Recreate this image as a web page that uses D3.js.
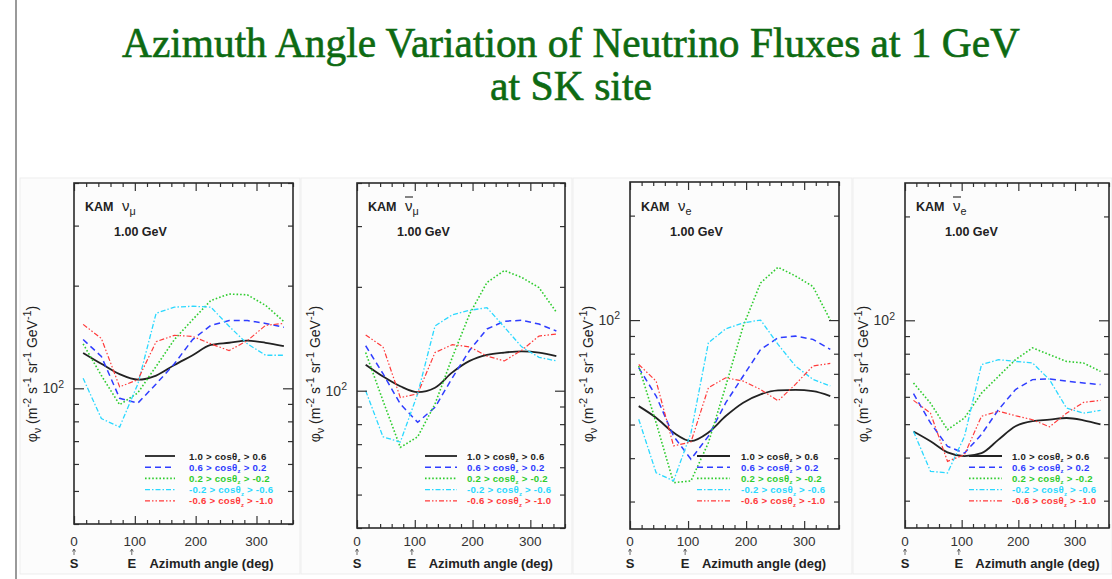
<!DOCTYPE html>
<html>
<head>
<meta charset="utf-8">
<script src="https://cdn.jsdelivr.net/npm/d3@7"></script>
<style>
  body { margin: 0; background: #fff; }
  svg { display: block; }
</style>
</head>
<body>
<svg id="chart" width="1112" height="579"></svg>
<script>
// Azimuth bin centres (deg) at which the fluxes are tabulated
const azimuth = [15, 45, 75, 105, 135, 165, 195, 225, 255, 285, 315, 345];

// Zenith-angle bands, [upper, lower] bound of cos(theta_z)
const zenithBands = [["1.0", "0.6"], ["0.6", "0.2"], ["0.2", "-0.2"], ["-0.2", "-0.6"], ["-0.6", "-1.0"]];

// Flux at 1 GeV, m^-2 s^-1 sr^-1 GeV^-1, one row per zenith band
const fluxNuMu = [
  [127, 118, 110, 106, 109, 117, 125, 134, 136, 138, 136, 133],
  [139, 124, 93.5, 90.5, 103, 118, 139, 153, 158, 158, 155, 151],
  [135, 109, 89.5, 97, 116, 139, 159, 181, 189, 188, 175, 157],
  [107, 81.5, 77, 103, 166, 173, 174, 173, 152, 135, 125, 125],
  [154, 140, 101, 106, 137, 143, 142, 135, 129, 138, 153, 155]
];
const fluxNuMuBar = [
  [119, 110, 103, 99, 102, 113, 122, 127, 129, 130, 129, 126],
  [135, 112, 91.5, 81, 89.5, 109, 131, 151, 159, 160, 156, 149],
  [129, 93.5, 68.5, 73.5, 91.5, 125, 167, 206, 223, 213, 199, 169],
  [100, 73.5, 71, 98, 154, 166, 171, 174, 153, 134, 125, 122],
  [145, 134, 95.5, 98, 129, 136, 134, 126, 122, 131, 144, 146]
];
const fluxNuE = [
  [56.5, 52.3, 47.4, 44.8, 47.4, 52.9, 57.8, 61.1, 62.7, 62.9, 62.4, 60.4],
  [72.9, 60.4, 46.3, 39.7, 46.3, 57.8, 69.0, 82.3, 88.9, 89.9, 88.0, 82.3],
  [73.7, 50.6, 34.0, 34.4, 44.3, 64.6, 96.1, 128, 142, 134, 125, 100],
  [51.8, 36.3, 34.4, 47.3, 86.0, 94.4, 98.2, 100, 85.1, 73.7, 67.5, 64.6],
  [74.5, 66.7, 43.4, 44.5, 63.8, 68.2, 66.7, 63.1, 58.5, 65.3, 73.7, 75.0]
];
const fluxNuEBar = [
  [47.6, 44.6, 41.4, 40.4, 41.2, 45.1, 49.3, 51.0, 51.5, 52.1, 51.3, 49.9],
  [61.3, 50.4, 43.1, 41.2, 46.7, 55.1, 63.0, 67.3, 67.6, 66.6, 65.8, 65.1],
  [65.8, 57.5, 48.2, 52.1, 61.5, 68.8, 76.9, 83.2, 79.5, 76.0, 75.2, 71.1],
  [47.6, 36.5, 36.1, 46.1, 74.4, 76.9, 76.0, 75.2, 67.3, 55.7, 53.8, 54.8],
  [58.6, 53.8, 39.0, 40.8, 52.7, 54.5, 52.9, 51.5, 49.1, 53.8, 57.8, 58.6]
];

// Axis ticks and labels
const xTickLabels = [0, 100, 200, 300];
const xMinorStep = 20;
const directionMarks = [{ az: 0, label: "S" }, { az: 95, label: "E" }];
const flavourNames = [
  { base: "ν", sub: "μ", bar: false },
  { base: "ν", sub: "μ", bar: true },
  { base: "ν", sub: "e", bar: false },
  { base: "ν", sub: "e", bar: true }
];
const siteLabel = "KAM";
const energyLabel = "1.00 GeV";
const fluxDomains = [[40, 400], [40, 400], [25, 250], [25, 250]];
const titleLines = ["Azimuth Angle Variation of Neutrino Fluxes at 1 GeV", "at SK site"];

// Styling of the five zenith-band curves
const bandStyles = [
  { color: "#222222", dash: null,               width: 1.8, smooth: true },
  { color: "#2f3dff", dash: "6,4",              width: 1.5, smooth: false },
  { color: "#2fcc2f", dash: "1.6,2",            width: 1.6, smooth: false },
  { color: "#2ad8ff", dash: "5,2,1.5,2",        width: 1.3, smooth: false },
  { color: "#ff3a3a", dash: "5,2,1.5,2,1.5,2",  width: 1.2, smooth: false }
];

const panelData = [fluxNuMu, fluxNuMuBar, fluxNuE, fluxNuEBar];

// Frame geometry for the four panels; legend offsets are from the frame's left edge
const panels = [
  { x0: 74,  x1: 293,  y0: 183, y1: 524, bg: [20, 300],   leg: [71, 101, 115] },
  { x0: 357, x1: 565,  y0: 183, y1: 528, bg: [301, 572],  leg: [68, 100, 110] },
  { x0: 630, x1: 839,  y0: 182, y1: 529, bg: [573, 852],  leg: [67, 100, 111] },
  { x0: 905, x1: 1109, y0: 183, y1: 528, bg: [853, 1112], leg: [64, 97, 107] }
];

const svg = d3.select("#chart");
const sans = "'Liberation Sans', Arial, Helvetica, sans-serif";

// page rule on the left
svg.append("line").attr("x1", 16).attr("x2", 16).attr("y1", 0).attr("y2", 579)
  .attr("stroke", "#9a9a9a").attr("stroke-width", 2);

// title
const title = svg.append("g").attr("fill", "#0d6a12")
  .attr("stroke", "#0d6a12").attr("stroke-width", 0.6)
  .attr("font-family", "'Liberation Serif', 'Times New Roman', serif")
  .attr("text-anchor", "middle");
title.append("text").attr("x", 571).attr("y", 57).attr("font-size", 42)
  .attr("textLength", 898).attr("lengthAdjust", "spacingAndGlyphs").text(titleLines[0]);
title.append("text").attr("x", 571).attr("y", 100).attr("font-size", 42)
  .attr("textLength", 162).attr("lengthAdjust", "spacingAndGlyphs").text(titleLines[1]);

// helper: rich text made of normal / sup / sub runs
function richText(sel, runs, size, small = 0.72) {
  let shift = 0;
  runs.forEach(([t, mode]) => {
    const target = mode === "sup" ? -0.4 * size : mode === "sub" ? 0.25 * size : 0;
    sel.append("tspan")
      .attr("dy", target - shift)
      .attr("font-size", mode === "n" ? size : size * small)
      .text(t);
    shift = target;
  });
  if (shift !== 0) sel.append("tspan").attr("dy", -shift).text("");
}

panels.forEach((p, pi) => {
  const g = svg.append("g");
  const x = d3.scaleLinear().domain([0, 360]).range([p.x0, p.x1]);
  const y = d3.scaleLog().domain(fluxDomains[pi]).range([p.y1, p.y0]);

  // picture background
  g.append("rect").attr("x", p.bg[0]).attr("y", 178).attr("width", p.bg[1] - p.bg[0])
    .attr("height", 396).attr("fill", "#fcfcfc").attr("stroke", "#ededed");

  // clip region for curves
  const clipId = "clip" + pi;
  g.append("clipPath").attr("id", clipId).append("rect")
    .attr("x", p.x0).attr("y", p.y0).attr("width", p.x1 - p.x0).attr("height", p.y1 - p.y0);

  // curves
  const curves = g.append("g").attr("clip-path", `url(#${clipId})`);
  panelData[pi].forEach((row, bi) => {
    const st = bandStyles[bi];
    const line = d3.line()
      .x((d, i) => x(azimuth[i]))
      .y(d => y(d))
      .curve(st.smooth ? d3.curveMonotoneX : d3.curveLinear);
    curves.append("path").datum(row).attr("d", line)
      .attr("fill", "none").attr("stroke", st.color)
      .attr("stroke-width", st.width)
      .attr("stroke-dasharray", st.dash);
  });

  // ticks (inward, on all four sides)
  const [lo, hi] = fluxDomains[pi];
  const yMinor = y.ticks().filter(v => v >= lo && v <= hi && v !== 100);
  const yMajor = [100];
  const xAll = d3.range(0, 361, xMinorStep);
  const xMinor = xAll.filter(v => v % 100 !== 0);
  const xMajor = xAll.filter(v => v % 100 === 0);
  const tickGroup = g.append("g").attr("color", "#333");
  const addAxis = (axis, tx, ty) => {
    const a = tickGroup.append("g").attr("transform", `translate(${tx},${ty})`).call(axis);
    a.select(".domain").remove();
    a.selectAll("text").remove();
    a.selectAll("line").attr("stroke-width", 1.2);
  };
  addAxis(d3.axisLeft(y).tickValues(yMinor).tickSize(-5), p.x0, 0);
  addAxis(d3.axisLeft(y).tickValues(yMajor).tickSize(-10), p.x0, 0);
  addAxis(d3.axisRight(y).tickValues(yMinor).tickSize(-5), p.x1, 0);
  addAxis(d3.axisRight(y).tickValues(yMajor).tickSize(-10), p.x1, 0);
  addAxis(d3.axisBottom(x).tickValues(xMinor).tickSize(-4), 0, p.y1);
  addAxis(d3.axisBottom(x).tickValues(xMajor).tickSize(-8), 0, p.y1);
  addAxis(d3.axisTop(x).tickValues(xMinor).tickSize(-4), 0, p.y0);
  addAxis(d3.axisTop(x).tickValues(xMajor).tickSize(-8), 0, p.y0);

  // frame
  g.append("rect").attr("x", p.x0).attr("y", p.y0)
    .attr("width", p.x1 - p.x0).attr("height", p.y1 - p.y0)
    .attr("fill", "none").attr("stroke", "#2a2a2a").attr("stroke-width", 1.6);

  // 10^2 label
  const yl = g.append("text").attr("x", p.x0 - 10).attr("y", y(100) + 5)
    .attr("text-anchor", "end").attr("font-family", sans).attr("fill", "#333");
  richText(yl, [["10", "n"], ["2", "sup"]], 14, 0.75);

  // x tick labels
  g.selectAll(".xl").data(xTickLabels).join("text")
    .attr("x", d => x(d)).attr("y", 546).attr("text-anchor", "middle")
    .attr("font-family", sans).attr("font-size", 13.5).attr("fill", "#333")
    .text(d => d);

  // S / E direction marks
  directionMarks.forEach(m => {
    const xm = x(m.az);
    g.append("path")
      .attr("d", `M${xm},555 L${xm},549 M${xm - 1.5},551.5 L${xm},549 L${xm + 1.5},551.5`)
      .attr("fill", "none").attr("stroke", "#444").attr("stroke-width", 0.8);
    g.append("text").attr("x", xm).attr("y", 568).attr("text-anchor", "middle")
      .attr("font-family", sans).attr("font-weight", "bold").attr("font-size", 13)
      .attr("fill", "#222").text(m.label);
  });

  // x axis title
  g.append("text").attr("x", x(124)).attr("y", 568)
    .attr("font-family", sans).attr("font-weight", "bold").attr("font-size", 13)
    .attr("fill", "#222").text("Azimuth angle (deg)");

  // y axis title
  const yt = g.append("text")
    .attr("transform", `translate(${p.x0 - 37},374) rotate(-90)`)
    .attr("text-anchor", "middle").attr("font-family", sans).attr("fill", "#222");
  richText(yt, [["φ", "n"], ["ν", "sub"], [" (m", "n"], ["-2", "sup"], [" s", "n"], ["-1", "sup"],
    [" sr", "n"], ["-1", "sup"], [" GeV", "n"], ["-1", "sup"], [")", "n"]], 14, 0.78);

  // flavour label
  const f = flavourNames[pi];
  g.append("text").attr("x", p.x0 + 11).attr("y", 211)
    .attr("font-family", sans).attr("font-weight", "bold").attr("font-size", 12.5)
    .attr("fill", "#222").text(siteLabel);
  const fx = p.x0 + 48;
  const ft = g.append("text").attr("x", fx).attr("y", 211)
    .attr("font-family", sans).attr("font-size", 15).attr("fill", "#222");
  richText(ft, [[f.base, "n"], [f.sub, "sub"]], 15);
  if (f.bar) {
    g.append("line").attr("x1", fx).attr("x2", fx + 8).attr("y1", 197).attr("y2", 197)
      .attr("stroke", "#222").attr("stroke-width", 1.1);
  }
  g.append("text").attr("x", p.x0 + 40).attr("y", 236)
    .attr("font-family", sans).attr("font-weight", "bold").attr("font-size", 12.5)
    .attr("fill", "#222").text(energyLabel);

  // legend
  zenithBands.forEach((b, bi) => {
    const st = bandStyles[bi];
    const ly = 456 + bi * 11.2;
    g.append("line").attr("x1", p.x0 + p.leg[0]).attr("x2", p.x0 + p.leg[1])
      .attr("y1", ly).attr("y2", ly)
      .attr("stroke", st.color).attr("stroke-width", st.width)
      .attr("stroke-dasharray", st.dash);
    const lt = g.append("text").attr("x", p.x0 + p.leg[2]).attr("y", ly + 3.6)
      .attr("font-family", sans).attr("font-weight", "bold").attr("fill", st.color)
      .attr("letter-spacing", 0.25);
    richText(lt, [[`${b[0]} > cos`, "n"], ["θ", "n"], ["z", "sub"], [` > ${b[1]}`, "n"]], 9.6, 0.62);
  });
});
</script>
</body>
</html>
